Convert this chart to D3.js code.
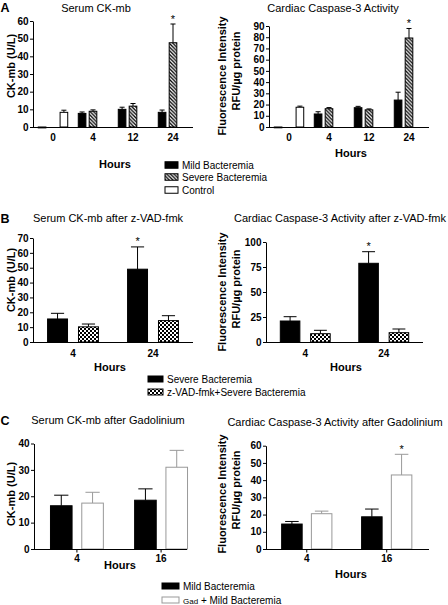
<!DOCTYPE html>
<html><head><meta charset="utf-8">
<script src="https://cdn.jsdelivr.net/npm/d3@7"></script>
<style>html,body{margin:0;padding:0;background:#fff;} svg{display:block;font-family:"Liberation Sans",Arial,sans-serif;}</style>
</head><body><svg id="c" width="448" height="605"></svg>
<script>
// ---------------- DATA ----------------
// Panel A
const hoursA = ["0", "4", "12", "24"];
const seriesA = ["Mild Bacteremia", "Severe Bacteremia", "Control"];
const ckA_mild = [-0.5, 7.7, 10.0, 8.3];
const ckA_mild_err = [0, 0.8, 1.2, 1.3];
const ckA_severe = [null, 8.9, 11.8, 47.7];
const ckA_severe_err = [null, 0.8, 1.5, 10.6];
const ckA_severe_sig = [false, false, false, true];
const ckA_control = [8.3, null, null, null];
const ckA_control_err = [1.2, null, null, null];
const ckA_ticks = [0, 10, 20, 30, 40, 50, 60];

const casA_mild = [-0.5, 11.6, 17.2, 24.0];
const casA_mild_err = [0, 2.0, 1.2, 7.0];
const casA_severe = [null, 16.3, 15.3, 79.3];
const casA_severe_err = [null, 1.0, 0.8, 8.5];
const casA_severe_sig = [false, false, false, true];
const casA_control = [17.6, null, null, null];
const casA_control_err = [1.0, null, null, null];
const casA_ticks = [0, 10, 20, 30, 40, 50, 60, 70, 80, 90];

// Panel B
const hoursB = ["4", "24"];
const seriesB = ["Severe Bacteremia", "z-VAD-fmk+Severe Bacteremia"];
const ckB_severe = [15.5, 49.0];
const ckB_severe_err = [3.8, 15.0];
const ckB_severe_sig = [false, true];
const ckB_zvad = [10.2, 14.4];
const ckB_zvad_err = [1.9, 3.3];
const ckB_ticks = [0, 10, 20, 30, 40, 50, 60, 70];

const casB_severe = [21.0, 78.7];
const casB_severe_err = [4.3, 11.6];
const casB_severe_sig = [false, true];
const casB_zvad = [8.3, 9.3];
const casB_zvad_err = [3.4, 3.7];
const casB_ticks = [0, 25, 50, 75, 100];

// Panel C
const hoursC = ["4", "16"];
const seriesC = ["Mild Bacteremia", "Gad + Mild Bacteremia"];
const ckC_mild = [16.4, 18.5];
const ckC_mild_err = [4.0, 4.3];
const ckC_gad = [17.4, 31.0];
const ckC_gad_err = [4.1, 6.4];
const ckC_ticks = [0, 10, 20, 30, 40];

const casC_mild = [14.5, 18.7];
const casC_mild_err = [1.5, 4.5];
const casC_gad = [20.5, 43.0];
const casC_gad_err = [1.5, 12.0];
const casC_gad_sig = [false, true];
const casC_ticks = [0, 10, 20, 30, 40, 50, 60];

// ---------------- DRAWING ----------------
const svg = d3.select("#c");
const defs = svg.append("defs");
const FONT = '"Liberation Sans", Arial, sans-serif';

// diagonal hatch "\\\"
const hs = 3.6;
const hatch = defs.append("pattern").attr("id", "hatch").attr("patternUnits", "userSpaceOnUse")
  .attr("width", hs).attr("height", hs);
hatch.append("rect").attr("width", hs).attr("height", hs).attr("fill", "#fff");
hatch.append("path")
  .attr("d", `M0,0 L${hs},${hs} M${-hs/2},${hs/2} L${hs/2},${hs*1.5} M${hs/2},${-hs/2} L${hs*1.5},${hs/2}`)
  .attr("stroke", "#000").attr("stroke-width", 1.3);

// checkerboard
const checker = defs.append("pattern").attr("id", "checker").attr("patternUnits", "userSpaceOnUse")
  .attr("width", 4).attr("height", 4);
checker.append("rect").attr("width", 4).attr("height", 4).attr("fill", "#fff");
checker.append("rect").attr("width", 2).attr("height", 2).attr("fill", "#000");
checker.append("rect").attr("x", 2).attr("y", 2).attr("width", 2).attr("height", 2).attr("fill", "#000");

const styles = {
  mild:    {fill: "#000", stroke: "#000", err: "#000"},
  severe:  {fill: "url(#hatch)", stroke: "#000", err: "#000"},
  control: {fill: "#fff", stroke: "#000", err: "#000"},
  sevB:    {fill: "#000", stroke: "#000", err: "#000"},
  zvad:    {fill: "url(#checker)", stroke: "#000", err: "#000"},
  gad:     {fill: "#fff", stroke: "#999", err: "#999"}
};

function panel(o) {
  const g = svg.append("g");
  const x = d3.scaleBand().domain(o.cats).range(o.xRange).paddingInner(o.pi).paddingOuter(o.po);
  const keys = o.series.map(s => s.key);
  const xi = d3.scaleBand().domain(keys).range([0, x.bandwidth()]).paddingInner(o.qi).paddingOuter(o.qo);
  const y = d3.scaleLinear().domain([0, d3.max(o.yTicks)]).range(o.yRange);
  const bw = xi.bandwidth();

  o.series.forEach(s => {
    const st = styles[s.style];
    const data = o.cats.map((c, i) => ({c, v: s.values[i], e: s.errors ? s.errors[i] : 0, sig: s.sig ? s.sig[i] : false}))
      .filter(d => d.v != null);
    const sg = g.append("g");
    data.filter(d => d.e > 0).forEach(d => {
      const cx = x(d.c) + xi(s.key) + bw / 2;
      const top = y(d.v + d.e);
      sg.append("line").attr("x1", cx).attr("x2", cx).attr("y1", y(d.v)).attr("y2", top)
        .attr("stroke", st.err).attr("stroke-width", 1);
      sg.append("line").attr("x1", cx - bw * 0.33).attr("x2", cx + bw * 0.33).attr("y1", top).attr("y2", top)
        .attr("stroke", st.err).attr("stroke-width", 1);
      if (d.sig) {
        sg.append("text").attr("x", cx).attr("y", top - 1.5).attr("text-anchor", "middle")
          .attr("font-size", 11).attr("font-family", FONT).attr("fill", "#000").text("*");
      }
    });
    sg.selectAll("rect").data(data).join("rect")
      .attr("x", d => x(d.c) + xi(s.key))
      .attr("width", bw)
      .attr("y", d => y(Math.max(0, d.v)))
      .attr("height", d => Math.max(0.8, Math.abs(y(d.v) - y(0))))
      .attr("fill", st.fill)
      .attr("stroke", st.stroke)
      .attr("stroke-width", 1);
  });

  const ya = g.append("g").attr("transform", `translate(${o.xRange[0]},0)`)
    .call(d3.axisLeft(y).tickValues(o.yTicks).tickSize(3).tickSizeOuter(0).tickPadding(1.5));
  ya.attr("font-family", FONT).attr("font-size", 10).attr("font-weight", "bold");
  ya.selectAll("text").attr("fill", "#000");
  g.append("line").attr("x1", o.xRange[0]).attr("x2", o.xAxisEnd).attr("y1", y(0) + 0.5).attr("y2", y(0) + 0.5)
    .attr("stroke", "#000").attr("stroke-width", 1);
  g.selectAll("text.xl").data(o.cats).join("text").attr("class", "xl")
    .attr("x", c => x(c) + x.bandwidth() / 2).attr("y", y(0) + o.xLabelDy)
    .attr("text-anchor", "middle").attr("font-family", FONT).attr("font-size", 10).attr("font-weight", "bold")
    .text(c => c);
  if (o.xTicks) {
    g.selectAll("line.xt").data(o.cats).join("line").attr("class", "xt")
      .attr("x1", c => x(c) + x.bandwidth() / 2).attr("x2", c => x(c) + x.bandwidth() / 2)
      .attr("y1", y(0)).attr("y2", y(0) + 3.5).attr("stroke", "#000");
  }
  g.append("text").attr("x", o.hoursPos[0]).attr("y", o.hoursPos[1]).attr("text-anchor", "middle")
    .attr("font-family", FONT).attr("font-size", 11).attr("font-weight", "bold").text("Hours");
  o.yTitle.forEach(t => {
    g.append("text").attr("transform", `translate(${t[1]},${t[2]}) rotate(-90)`)
      .attr("text-anchor", "middle").attr("font-family", FONT).attr("font-size", 11).attr("font-weight", "bold")
      .text(t[0]);
  });
  g.append("text").attr("x", o.titlePos[0]).attr("y", o.titlePos[1]).attr("text-anchor", "middle")
    .attr("font-family", FONT).attr("font-size", 11).text(o.title);
}

function letter(t, yy) {
  svg.append("text").attr("x", 0.5).attr("y", yy).attr("font-family", FONT).attr("font-size", 12.5)
    .attr("font-weight", "bold").text(t);
}

function legend(items, x0, ys, bwid, bh, tx) {
  items.forEach((it, i) => {
    const st = styles[it.style];
    svg.append("rect").attr("x", x0).attr("y", ys[i] - bh / 2).attr("width", bwid).attr("height", bh)
      .attr("fill", st.fill).attr("stroke", st.stroke).attr("stroke-width", 1);
    const t = svg.append("text").attr("x", tx).attr("y", ys[i] + 3.6).attr("font-family", FONT).attr("font-size", 10);
    if (it.small) {
      t.append("tspan").attr("font-size", 8).text(it.small);
      t.append("tspan").text(it.label.slice(it.small.length));
    } else t.text(it.label);
  });
}

const yTitleCas = "Fluorescence Intensity";
const yTitleCas2 = "RFU/\u00b5g protein";

// ---- Panel A ----
letter("A", 12);
panel({
  cats: hoursA, xRange: [33, 193], xAxisEnd: 193, pi: 0.1, po: 0.05, qi: 0.3, qo: 0.3,
  yRange: [127, 21], yTicks: ckA_ticks, xLabelDy: 14,
  series: [
    {key: seriesA[0], style: "mild", values: ckA_mild, errors: ckA_mild_err},
    {key: seriesA[1], style: "severe", values: ckA_severe, errors: ckA_severe_err, sig: ckA_severe_sig},
    {key: seriesA[2], style: "control", values: ckA_control, errors: ckA_control_err}
  ],
  hoursPos: [115, 168], yTitle: [["CK-mb (U/L)", 15, 66]], title: "Serum CK-mb", titlePos: [96, 12]
});
panel({
  cats: hoursA, xRange: [269, 429], xAxisEnd: 429, pi: 0.1, po: 0.05, qi: 0.3, qo: 0.3,
  yRange: [127, 26], yTicks: casA_ticks, xLabelDy: 14,
  series: [
    {key: seriesA[0], style: "mild", values: casA_mild, errors: casA_mild_err},
    {key: seriesA[1], style: "severe", values: casA_severe, errors: casA_severe_err, sig: casA_severe_sig},
    {key: seriesA[2], style: "control", values: casA_control, errors: casA_control_err}
  ],
  hoursPos: [351, 157], yTitle: [[yTitleCas, 226, 76], [yTitleCas2, 240, 71]],
  title: "Cardiac Caspase-3 Activity", titlePos: [333, 12]
});
legend([{label: seriesA[0], style: "mild"}, {label: seriesA[1], style: "severe"}, {label: seriesA[2], style: "control"}],
  165, [165, 177, 190], 13, 6.5, 182);

// ---- Panel B ----
letter("B", 223);
panel({
  cats: hoursB, xRange: [33, 193], xAxisEnd: 193, pi: 0.09, po: 0.045, qi: 0.355, qo: 0.355,
  yRange: [342, 238], yTicks: ckB_ticks, xLabelDy: 14.5,
  series: [
    {key: seriesB[0], style: "sevB", values: ckB_severe, errors: ckB_severe_err, sig: ckB_severe_sig},
    {key: seriesB[1], style: "zvad", values: ckB_zvad, errors: ckB_zvad_err}
  ],
  hoursPos: [110, 371], yTitle: [["CK-mb (U/L)", 15, 280]],
  title: "Serum CK-mb after z-VAD-fmk", titlePos: [108, 222]
});
panel({
  cats: hoursB, xRange: [266, 423], xAxisEnd: 423, pi: 0.09, po: 0.045, qi: 0.355, qo: 0.355,
  yRange: [342, 242], yTicks: casB_ticks, xLabelDy: 14.5,
  series: [
    {key: seriesB[0], style: "sevB", values: casB_severe, errors: casB_severe_err, sig: casB_severe_sig},
    {key: seriesB[1], style: "zvad", values: casB_zvad, errors: casB_zvad_err}
  ],
  hoursPos: [346, 371], yTitle: [[yTitleCas, 226, 292], [yTitleCas2, 240, 289]],
  title: "Cardiac  Caspase-3 Activity after z-VAD-fmk", titlePos: [340, 222]
});
legend([{label: seriesB[0], style: "sevB"}, {label: seriesB[1], style: "zvad"}],
  148, [379, 392], 15, 6, 167);

// ---- Panel C ----
letter("C", 425);
panel({
  cats: hoursC, xRange: [34, 204], xAxisEnd: 187, pi: 0.26, po: 0.14, qi: 0.31, qo: 0.15,
  yRange: [549, 443.5], yTicks: ckC_ticks, xLabelDy: 12.5, xTicks: true,
  series: [
    {key: seriesC[0], style: "mild", values: ckC_mild, errors: ckC_mild_err},
    {key: seriesC[1], style: "gad", values: ckC_gad, errors: ckC_gad_err}
  ],
  hoursPos: [120, 569], yTitle: [["CK-mb (U/L)", 15, 494]],
  title: "Serum CK-mb after Gadolinium", titlePos: [108, 424]
});
panel({
  cats: hoursC, xRange: [266, 427.5], xAxisEnd: 429, pi: 0.26, po: 0.14, qi: 0.31, qo: 0.15,
  yRange: [549, 445.7], yTicks: casC_ticks, xLabelDy: 12.5, xTicks: true,
  series: [
    {key: seriesC[0], style: "mild", values: casC_mild, errors: casC_mild_err},
    {key: seriesC[1], style: "gad", values: casC_gad, errors: casC_gad_err, sig: casC_gad_sig}
  ],
  hoursPos: [351, 578], yTitle: [[yTitleCas, 226, 494], [yTitleCas2, 240, 490]],
  title: "Cardiac  Caspase-3 Activity after Gadolinium", titlePos: [335, 426]
});
legend([{label: seriesC[0], style: "mild"}, {label: seriesC[1], style: "gad", small: "Gad"}],
  162, [586, 600], 17, 6, 183);
</script></body></html>
